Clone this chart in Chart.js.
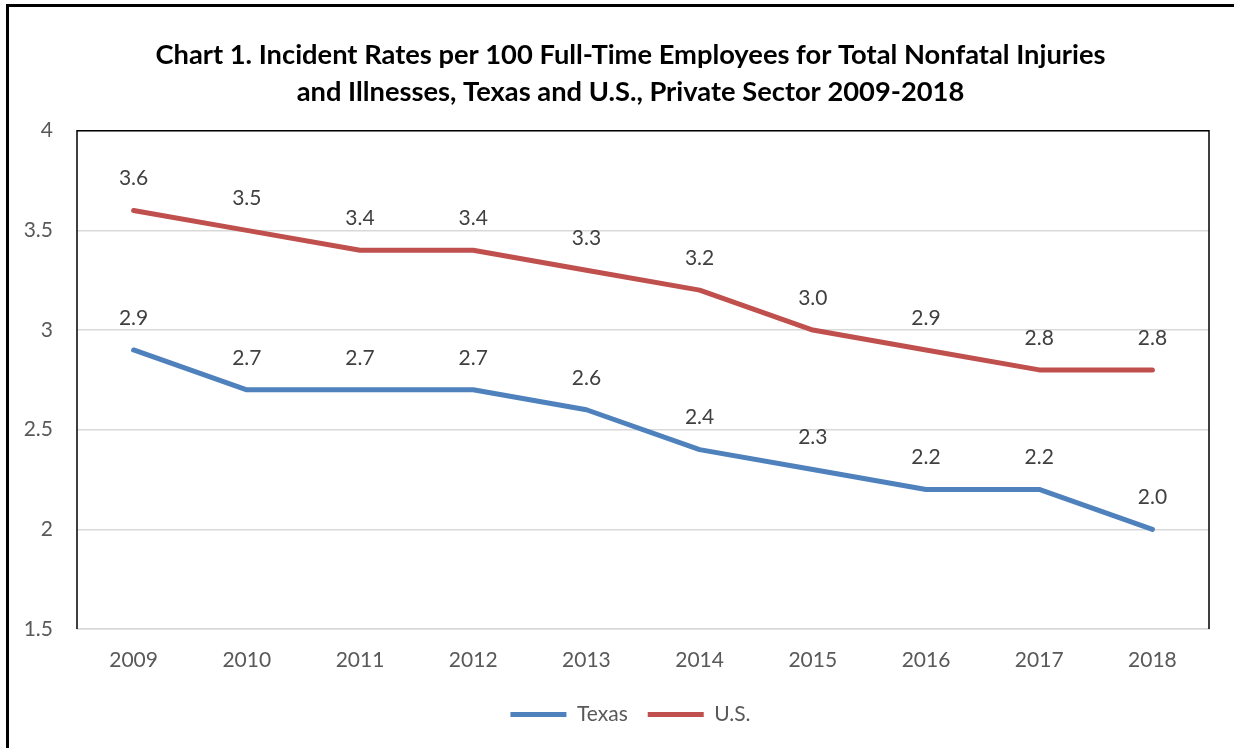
<!DOCTYPE html>
<html>
<head>
<meta charset="utf-8">
<script src="https://cdn.jsdelivr.net/npm/chart.js@4/dist/chart.umd.min.js"></script>
<style>
  html, body { margin: 0; padding: 0; background: #fff; }
  .wrap { position: relative; width: 1234px; height: 748px; }
</style>
</head>
<body>
<div class="wrap"><canvas id="rates" width="1234" height="748"></canvas></div>
<script>
const years = ["2009", "2010", "2011", "2012", "2013", "2014", "2015", "2016", "2017", "2018"];
const texasRates = [2.9, 2.7, 2.7, 2.7, 2.6, 2.4, 2.3, 2.2, 2.2, 2.0];
const usRates = [3.6, 3.5, 3.4, 3.4, 3.3, 3.2, 3.0, 2.9, 2.8, 2.8];
const yTicks = [1.5, 2, 2.5, 3, 3.5, 4];

const FONT = "Lato, 'Open Sans', sans-serif";

// outer frame + black box round the plot area
const frame = {
  id: "frame",
  beforeDraw(chart) {
    const ctx = chart.ctx;
    ctx.save();
    ctx.strokeStyle = "#000";
    ctx.lineWidth = 3;
    ctx.strokeRect(7.5, 5.5, 1300, 800);
    ctx.restore();
  },
  afterDatasetsDraw(chart) {
    const { ctx, chartArea: a } = chart;
    ctx.save();
    ctx.strokeStyle = "#000";
    ctx.lineWidth = 1.5;
    ctx.beginPath();
    ctx.moveTo(a.left, a.bottom);
    ctx.lineTo(a.left, a.top);
    ctx.lineTo(a.right, a.top);
    ctx.lineTo(a.right, a.bottom);
    ctx.stroke();
    ctx.restore();
  },
};

// title and legend are centred on the whole frame, not just the plot side
const recenter = {
  id: "recenter",
  afterLayout(chart) {
    const d = 21;
    [chart.titleBlock, chart.legend].forEach((b) => {
      b.left += d;
      b.right += d;
    });
  },
};

// value labels above each point
const valueLabels = {
  id: "valueLabels",
  afterDatasetsDraw(chart) {
    const ctx = chart.ctx;
    ctx.save();
    ctx.font = "21px " + FONT;
    ctx.fillStyle = "#404040";
    ctx.textAlign = "center";
    ctx.textBaseline = "middle";
    chart.data.datasets.forEach((ds, i) => {
      chart.getDatasetMeta(i).data.forEach((pt, j) => {
        ctx.fillText(ds.data[j].toFixed(1), pt.x, pt.y - 32);
      });
    });
    ctx.restore();
  },
};

new Chart(document.getElementById("rates"), {
  type: "line",
  data: {
    labels: years,
    datasets: [
      {
        label: "Texas",
        data: texasRates,
        borderColor: "#4f81bd",
        backgroundColor: "#4f81bd",
        borderWidth: 5,
        borderCapStyle: "round",
        borderJoinStyle: "round",
        pointRadius: 0,
        tension: 0,
      },
      {
        label: "U.S.",
        data: usRates,
        borderColor: "#c0504d",
        backgroundColor: "#c0504d",
        borderWidth: 5,
        borderCapStyle: "round",
        borderJoinStyle: "round",
        pointRadius: 0,
        tension: 0,
      },
    ],
  },
  options: {
    responsive: false,
    animation: false,
    layout: { padding: { left: 10, right: 25, top: 0, bottom: 13 } },
    plugins: {
      title: {
        display: true,
        text: [
          "Chart 1. Incident Rates per 100 Full-Time Employees for Total Nonfatal Injuries",
          "and Illnesses, Texas and U.S., Private Sector 2009-2018",
        ],
        color: "#000",
        font: { family: FONT, size: 27.3, weight: "bold", lineHeight: 1.35 },
        padding: { top: 37, bottom: 20 },
      },
      legend: {
        position: "bottom",
        labels: {
          usePointStyle: true,
          pointStyle: "line",
          pointStyleWidth: 56,
          color: "#595959",
          font: { family: FONT, size: 21 },
          padding: 20,
        },
      },
      tooltip: { enabled: false },
    },
    scales: {
      x: {
        offset: true,
        grid: { display: false, drawTicks: false },
        border: { color: "#d9d9d9", width: 1.5 },
        ticks: { color: "#595959", font: { family: FONT, size: 21 }, padding: 19 },
        afterFit(s) { s.height = 55; },
      },
      y: {
        min: 1.5,
        max: 4,
        afterBuildTicks(s) { s.ticks = yTicks.map((v) => ({ value: v })); },
        grid: { color: "#d9d9d9", lineWidth: 1.5, drawTicks: false },
        border: { display: false },
        ticks: {
          color: "#595959",
          font: { family: FONT, size: 21 },
          padding: 24,
          callback: (v) => String(v),
        },
        afterFit(s) { s.width = 67; },
      },
    },
  },
  plugins: [frame, recenter, valueLabels],
});
</script>
</body>
</html>
